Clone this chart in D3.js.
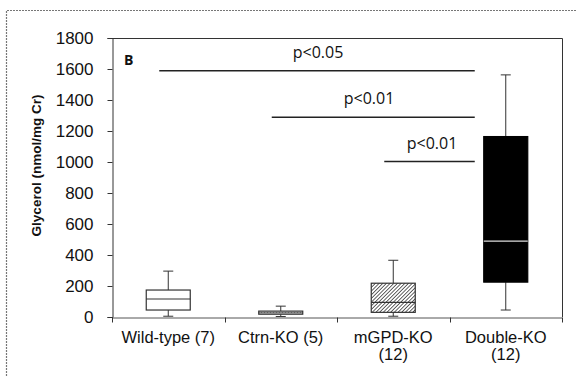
<!DOCTYPE html>
<html><head><meta charset="utf-8">
<script src="https://cdn.jsdelivr.net/npm/d3@7"></script>
<style>body{margin:0;background:#fff}svg{display:block}</style>
</head><body>
<script>
const categories = ["Wild-type (7)", "Ctrn-KO (5)", "mGPD-KO|(12)", "Double-KO|(12)"];
const whiskerLow = [5, 3, 5, 45];
const q1 = [45, 18, 30, 225];
const median = [116, 27, 95, 489];
const q3 = [174, 38, 218, 1164];
const whiskerHigh = [296, 70, 366, 1562];
const fills = ["white", "grey", "hatch", "black"];
const yTicks = [0, 200, 400, 600, 800, 1000, 1200, 1400, 1600, 1800];
const sigFrom = [0, 1, 2];
const sigTo = [3, 3, 3];
const sigY = [1588, 1288, 1003];
const sigLabel = ["p<0.05", "p<0.01", "p<0.01"];

const W = 576, H = 376;
const svg = d3.select("body").append("svg").attr("width", W).attr("height", H);
const defs = svg.append("defs");
const hp = defs.append("pattern").attr("id", "hatch").attr("patternUnits", "userSpaceOnUse")
  .attr("width", 2.6).attr("height", 2.6).attr("patternTransform", "rotate(45)");
hp.append("rect").attr("width", 2.6).attr("height", 2.6).attr("fill", "#fff");
hp.append("line").attr("x1", 0).attr("y1", 0).attr("x2", 0).attr("y2", 2.6).attr("stroke", "#222").attr("stroke-width", 1.4);
const gp = defs.append("pattern").attr("id", "grey").attr("patternUnits", "userSpaceOnUse")
  .attr("width", 3).attr("height", 3);
gp.append("rect").attr("width", 3).attr("height", 3).attr("fill", "#eee");
gp.append("rect").attr("width", 1).attr("height", 1).attr("fill", "#999");

// outer border
svg.append("path").attr("d", "M6.5,376 V10.5 H576").attr("fill", "none")
  .attr("stroke", "#777").attr("stroke-width", 1.2).attr("stroke-dasharray", "2,1");

const m = {l: 112, r: 562, t: 38, b: 317};
const x = d3.scaleBand().domain(d3.range(categories.length)).range([m.l, m.r]).padding(0);
const y = d3.scaleLinear().domain([0, 1800]).range([m.b, m.t]);

// frame top/right
svg.append("path").attr("d", `M${m.l},${m.t + 0.5} H${m.r + 0.5} V${m.b}`).attr("fill", "none").attr("stroke", "#333").attr("stroke-width", 1);

const yAxis = svg.append("g").attr("transform", `translate(${m.l + 0.5},0)`)
  .call(d3.axisLeft(y).tickValues(yTicks).tickFormat(d3.format("d")).tickSize(5).tickPadding(14));
yAxis.select(".domain").attr("stroke", "#333");
yAxis.selectAll("line").attr("stroke", "#333");
yAxis.selectAll("text").attr("font-family", "Liberation Sans, Arial, sans-serif").attr("font-size", 17).attr("fill", "#111");

const xAxis = svg.append("g").attr("transform", `translate(0,${m.b + 0.5})`)
  .call(d3.axisBottom(x).tickValues([]).tickSizeOuter(0));
xAxis.select(".domain").attr("stroke", "#555");
const bounds = d3.range(categories.length + 1).map(i => i < categories.length ? x(i) : x(i - 1) + x.bandwidth());
xAxis.selectAll(".bt").data(bounds).join("line").attr("class", "bt")
  .attr("x1", d => Math.round(d) + 0.5).attr("x2", d => Math.round(d) + 0.5).attr("y1", 0).attr("y2", 5).attr("stroke", "#333");

categories.forEach((c, i) => {
  const lines = c.split("|");
  lines.forEach((l, j) => svg.append("text").attr("x", x(i) + x.bandwidth() / 2).attr("y", 343 + j * 17)
    .attr("text-anchor", "middle").attr("font-family", "Liberation Sans, Arial, sans-serif").attr("font-size", 16.5).attr("fill", "#111").text(l));
});

svg.append("text").attr("transform", `translate(41,${(m.t + m.b) / 2 - 12}) rotate(-90)`)
  .attr("text-anchor", "middle").attr("font-family", "Liberation Sans, Arial, sans-serif")
  .attr("font-weight", "bold").attr("font-size", 13.5).attr("fill", "#111").text("Glycerol (nmol/mg Cr)");

const bw = 44;
categories.forEach((c, i) => {
  const cx = x(i) + x.bandwidth() / 2;
  const g = svg.append("g");
  g.append("line").attr("x1", cx).attr("x2", cx).attr("y1", y(whiskerHigh[i])).attr("y2", y(q3[i])).attr("stroke", "#333");
  g.append("line").attr("x1", cx - 5).attr("x2", cx + 5).attr("y1", y(whiskerHigh[i])).attr("y2", y(whiskerHigh[i])).attr("stroke", "#333");
  g.append("line").attr("x1", cx).attr("x2", cx).attr("y1", y(q1[i])).attr("y2", y(whiskerLow[i])).attr("stroke", "#333");
  g.append("line").attr("x1", cx - 5).attr("x2", cx + 5).attr("y1", y(whiskerLow[i])).attr("y2", y(whiskerLow[i])).attr("stroke", "#333");
  const f = fills[i];
  g.append("rect").attr("x", cx - bw / 2).attr("width", bw).attr("y", y(q3[i])).attr("height", y(q1[i]) - y(q3[i]))
    .attr("fill", f === "white" ? "#fff" : f === "black" ? "#000" : `url(#${f})`)
    .attr("stroke", f === "black" ? "#000" : "#333").attr("stroke-width", 1.2);
  g.append("line").attr("x1", cx - bw / 2).attr("x2", cx + bw / 2).attr("y1", y(median[i])).attr("y2", y(median[i]))
    .attr("stroke", f === "black" ? "#ddd" : "#333").attr("stroke-width", f === "grey" ? 0.8 : 1.2);
});

sigY.forEach((v, i) => {
  const x1 = x(sigFrom[i]) + x.bandwidth() / 2 - 9;
  const x2 = x(sigTo[i]) + x.bandwidth() / 2 - 31;
  svg.append("line").attr("x1", x1).attr("x2", x2).attr("y1", y(v)).attr("y2", y(v)).attr("stroke", "#222").attr("stroke-width", 1.5);
});
const labelX = [318, 369, 432];
sigY.forEach((v, i) => {
  svg.append("text").attr("x", labelX[i]).attr("y", y(v) - 13).attr("text-anchor", "middle")
    .attr("font-family", "Open Sans, sans-serif").attr("font-size", 16).attr("fill", "#111").text(sigLabel[i]);
});
svg.append("text").attr("x", 124).attr("y", 65).attr("font-family", "Open Sans, sans-serif").attr("font-weight", "bold")
  .attr("font-size", 14).attr("fill", "#111").text("B");
</script>
</body></html>
